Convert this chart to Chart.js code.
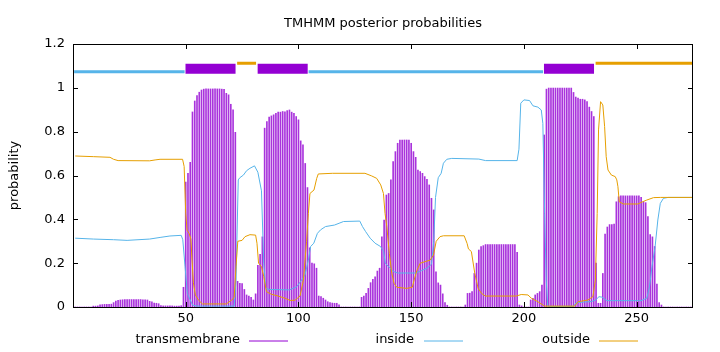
<!DOCTYPE html>
<html>
<head>
<meta charset="utf-8">
<script src="https://cdn.jsdelivr.net/npm/chart.js"></script>
<style>
  html, body { margin: 0; padding: 0; background: #fff; }
  #wrap { width: 720px; height: 352px; position: relative; }
</style>
</head>
<body>
<div id="wrap"><canvas id="myChart"></canvas></div>
<script>
// Posterior probability of transmembrane per residue (1..275)
const tmProb = [
  0, 0, 0, 0, 0, 0, 0, 0, 0.004, 0.004,
  0.005, 0.01, 0.011, 0.012, 0.012, 0.012, 0.013, 0.02, 0.027, 0.031,
  0.032, 0.033, 0.034, 0.034, 0.034, 0.034, 0.034, 0.034, 0.034, 0.034,
  0.033, 0.033, 0.032, 0.026, 0.024, 0.018, 0.017, 0.015, 0.006, 0.005,
  0.005, 0.005, 0.005, 0.005, 0.004, 0.004, 0.004, 0.006, 0.09, 0.57,
  0.61, 0.66, 0.89, 0.94, 0.965, 0.98, 0.99, 0.994, 0.995, 0.995,
  0.995, 0.995, 0.995, 0.995, 0.995, 0.994, 0.993, 0.975, 0.968, 0.925,
  0.9, 0.797, 0.117, 0.108, 0.107, 0.08, 0.055, 0.05, 0.044, 0.032,
  0.06, 0.19, 0.24, 0.32, 0.816, 0.846, 0.866, 0.872, 0.877, 0.884,
  0.889, 0.889, 0.892, 0.89, 0.896, 0.899, 0.889, 0.884, 0.869, 0.854,
  0.758, 0.74, 0.655, 0.545, 0.27, 0.2, 0.197, 0.177, 0.05, 0.047,
  0.04, 0.032, 0.024, 0.02, 0.018, 0.017, 0.017, 0.01, 0, 0,
  0, 0, 0, 0, 0, 0, 0, 0.044, 0.05, 0.062,
  0.085, 0.111, 0.126, 0.138, 0.164, 0.177, 0.32, 0.397, 0.511, 0.518,
  0.58, 0.663, 0.709, 0.747, 0.762, 0.762, 0.762, 0.762, 0.762, 0.747,
  0.709, 0.683, 0.625, 0.618, 0.61, 0.595, 0.583, 0.557, 0.496, 0.443,
  0.16, 0.11, 0.1, 0.06, 0.02, 0.008, 0, 0, 0, 0,
  0, 0, 0, 0.009, 0.062, 0.063, 0.07, 0.153, 0.2, 0.26,
  0.276, 0.28, 0.285, 0.285, 0.285, 0.285, 0.285, 0.285, 0.285, 0.285,
  0.285, 0.285, 0.285, 0.285, 0.285, 0.285, 0.25, 0.009, 0.005, 0,
  0, 0, 0.032, 0.04, 0.055, 0.062, 0.07, 0.1, 0.785, 0.994,
  0.999, 0.999, 0.999, 0.999, 0.999, 0.999, 0.999, 0.999, 0.999, 0.999,
  0.999, 0.979, 0.958, 0.953, 0.948, 0.948, 0.945, 0.937, 0.912, 0.892,
  0.869, 0.2, 0.017, 0.017, 0.153, 0.333, 0.365, 0.376, 0.376, 0.378,
  0.48, 0.503, 0.507, 0.507, 0.507, 0.507, 0.507, 0.507, 0.507, 0.507,
  0.507, 0.5, 0.48, 0.476, 0.412, 0.33, 0.32, 0.276, 0.105, 0.02,
  0.009, 0, 0, 0, 0, 0, 0, 0, 0, 0,
  0, 0, 0, 0, 0
];

// inside / outside curves as [residue, probability]
const insidePts = [
  [1,0.314],[9,0.31],[18,0.307],[24,0.304],[34,0.31],[39,0.318],[43,0.324],[48,0.327],
  [48.7,0.307],[49.7,0.184],[50.7,0.062],[52,0.032],[53,0.009],[55,0.004],[71.5,0.004],
  [72.3,0.123],[73.3,0.58],[74,0.59],[75.6,0.602],[77,0.622],[78.5,0.633],[80.5,0.644],
  [82,0.615],[83.6,0.53],[84.6,0.2],[85.5,0.085],[87,0.08],[96,0.078],[99.2,0.092],
  [101.4,0.123],[102.9,0.146],[104.4,0.214],[105.4,0.276],[106.8,0.291],[108.4,0.336],
  [109.8,0.352],[112,0.367],[116,0.374],[118,0.382],[120,0.39],[127.2,0.392],[128.4,0.367],
  [129.8,0.344],[131.8,0.314],[134,0.291],[136.4,0.276],[137.8,0.253],[138.5,0.2],
  [140.6,0.177],[142.4,0.161],[144,0.155],[152,0.155],[154.6,0.166],[157,0.177],[159,0.195],
  [160,0.3],[160.8,0.5],[162,0.59],[163.3,0.61],[164.3,0.656],[165.8,0.674],[168,0.678],
  [180,0.675],[183,0.668],[197,0.668],[197.8,0.72],[198.6,0.93],[200,0.945],[202.5,0.942],
  [204,0.918],[206.2,0.912],[207.7,0.899],[208.4,0.838],[209.2,0.427],[209.9,0.123],
  [210.6,0.002],[222,0.003],[223.2,0.02],[230,0.025],[231.8,0.032],[233.3,0.047],
  [234.6,0.045],[236.8,0.029],[252,0.029],[254.5,0.04],[255.7,0.092],[256.8,0.184],
  [258.2,0.276],[259.4,0.397],[260.5,0.473],[261.9,0.496],[264,0.5],[275,0.5]
];

const outsidePts = [
  [1,0.689],[9,0.686],[16.4,0.683],[18,0.674],[20,0.668],[34,0.667],[36.4,0.671],[38.6,0.674],
  [48.6,0.674],[49.3,0.641],[50,0.427],[50.6,0.35],[51.5,0.336],[52.3,0.31],[52.8,0.214],
  [53.4,0.11],[54.3,0.055],[55.6,0.032],[57.4,0.014],[68,0.014],[70.8,0.035],[71.5,0.045],
  [72.3,0.184],[73.1,0.3],[75,0.304],[76.3,0.321],[78.5,0.33],[81,0.328],[81.6,0.291],
  [82.3,0.2],[83.6,0.184],[84.6,0.14],[85.8,0.07],[88,0.058],[91,0.05],[94,0.04],[96.3,0.03],
  [98.5,0.031],[100.7,0.05],[102.2,0.123],[103.6,0.3],[104.4,0.427],[105.1,0.518],
  [106.9,0.534],[108.1,0.587],[108.8,0.607],[115,0.61],[129.5,0.61],[132.5,0.598],
  [134.7,0.587],[136.5,0.557],[137.7,0.518],[138.4,0.427],[139.2,0.367],[140.3,0.245],
  [141.4,0.154],[142.4,0.108],[143.6,0.09],[148,0.085],[150.5,0.09],[151.3,0.123],
  [152.5,0.166],[154,0.2],[156.2,0.207],[158.4,0.214],[159.9,0.237],[161.1,0.3],[162.8,0.321],
  [164.3,0.325],[173.5,0.325],[174.8,0.29],[175.4,0.265],[176.7,0.253],[178.2,0.154],
  [179.7,0.085],[181.2,0.062],[182.9,0.05],[196.6,0.05],[198.8,0.057],[201.8,0.055],
  [203.3,0.04],[206.2,0.024],[209.2,0.004],[222.5,0.004],[224,0.024],[228.4,0.032],
  [230.6,0.047],[231.7,0.123],[232.5,0.427],[233.1,0.808],[234,0.937],[235,0.922],
  [235.8,0.823],[236.5,0.686],[237.3,0.625],[238.8,0.602],[240.5,0.595],[241.2,0.58],
  [241.7,0.549],[242.3,0.48],[244.2,0.47],[250.5,0.47],[252.6,0.48],[254.5,0.488],
  [257.5,0.499],[260.5,0.5],[275,0.5]
];

// predicted topology
const topoType = ['inside', 'TMhelix', 'outside', 'TMhelix', 'inside', 'TMhelix', 'outside'];
const topoStart = [1, 50, 73, 82, 105, 209, 232];
const topoEnd = [49, 72, 81, 104, 208, 231, 275];

const seriesLabels = ['transmembrane', 'inside', 'outside'];
const yTicks = [0, 0.2, 0.4, 0.6, 0.8, 1, 1.2];
const xTicks = [50, 100, 150, 200, 250];

const PURPLE = '#9400D3', BLUE = '#56B4E9', ORANGE = '#E69F00';
const FONT = '"DejaVu Sans", sans-serif';

// level and look of the topology bar above the curves
const topoStyle = {
  inside:  { y: 1.073, color: BLUE, width: 3, inset: 0 },
  outside: { y: 1.112, color: ORANGE, width: 3, inset: 0.3 },
  TMhelix: { y: 1.087, color: PURPLE, width: 10, inset: 0.4 }
};

function topoData(kind) {
  const pts = [];
  const st = topoStyle[kind];
  topoType.forEach((t, i) => {
    if (t !== kind) return;
    pts.push({ x: topoStart[i] - 0.5 + st.inset, y: st.y });
    pts.push({ x: topoEnd[i] + 0.5 - st.inset, y: st.y });
    pts.push({ x: topoEnd[i] + 0.5, y: null });
  });
  return pts;
}

function topoDataset(kind) {
  const st = topoStyle[kind];
  return {
    type: 'line', data: topoData(kind), borderColor: st.color, borderWidth: st.width,
    borderCapStyle: 'butt', pointRadius: 0, spanGaps: false, clip: 0, order: 0
  };
}

const frame = {
  id: 'frame',
  afterDraw(chart) {
    const { ctx, chartArea: a, scales: { x, y } } = chart;
    ctx.save();
    ctx.strokeStyle = '#000';
    ctx.lineWidth = 1;
    ctx.strokeRect(a.left + 0.5, a.top + 0.5, a.right - a.left - 1, a.bottom - a.top);
    ctx.beginPath();
    xTicks.forEach(v => {
      const px = Math.round(x.getPixelForValue(v)) + 0.5;
      ctx.moveTo(px, a.bottom); ctx.lineTo(px, a.bottom - 5);
      ctx.moveTo(px, a.top); ctx.lineTo(px, a.top + 5);
    });
    yTicks.forEach(v => {
      const py = Math.round(y.getPixelForValue(v)) + 0.5;
      ctx.moveTo(a.left, py); ctx.lineTo(a.left + 5, py);
      ctx.moveTo(a.right, py); ctx.lineTo(a.right - 5, py);
    });
    ctx.stroke();

    ctx.fillStyle = '#000';
    ctx.font = '13px ' + FONT;
    ctx.textAlign = 'center';
    ctx.textBaseline = 'alphabetic';
    ctx.fillText('TMHMM posterior probabilities', (a.left + a.right) / 2, 27);

    ctx.save();
    ctx.translate(15, (a.top + a.bottom) / 2);
    ctx.rotate(-Math.PI / 2);
    ctx.textBaseline = 'middle';
    ctx.fillText('probability', 0, 0);
    ctx.restore();

    // key, text to the left of its sample line
    const key = [
      { textRight: 240, x0: 249, x1: 288, color: PURPLE },
      { textRight: 414, x0: 424, x1: 463, color: BLUE },
      { textRight: 590, x0: 599, x1: 638, color: ORANGE }
    ];
    ctx.textAlign = 'right';
    ctx.textBaseline = 'middle';
    key.forEach((k, i) => {
      ctx.fillStyle = '#000';
      ctx.fillText(seriesLabels[i], k.textRight, 340);
      ctx.strokeStyle = k.color;
      ctx.beginPath();
      ctx.moveTo(k.x0, 341);
      ctx.lineTo(k.x1, 341);
      ctx.stroke();
    });
    ctx.restore();
  }
};

const ctx = document.getElementById('myChart').getContext('2d');
new Chart(ctx, {
  type: 'bar',
  data: {
    datasets: [
      topoDataset('inside'),
      topoDataset('outside'),
      topoDataset('TMhelix'),
      {
        type: 'line', label: seriesLabels[2],
        data: outsidePts.map(p => ({ x: p[0], y: p[1] })),
        borderColor: ORANGE, borderWidth: 1, pointRadius: 0, tension: 0, order: 1
      },
      {
        type: 'line', label: seriesLabels[1],
        data: insidePts.map(p => ({ x: p[0], y: p[1] })),
        borderColor: BLUE, borderWidth: 1, pointRadius: 0, tension: 0, order: 2
      },
      {
        type: 'bar', label: seriesLabels[0],
        data: tmProb.map((v, i) => ({ x: i + 1, y: v })),
        backgroundColor: 'rgba(148, 0, 211, 0.8)', barThickness: 1, order: 3
      }
    ]
  },
  options: {
    responsive: true,
    maintainAspectRatio: false,
    animation: false,
    layout: { padding: { left: 0, top: 44, right: 27, bottom: 0 } },
    plugins: { legend: { display: false }, title: { display: false }, tooltip: { enabled: false } },
    scales: {
      x: {
        type: 'linear', min: 0, max: 275, offset: false,
        grid: { display: false, drawTicks: false }, border: { display: false },
        afterBuildTicks: s => { s.ticks = xTicks.map(v => ({ value: v })); },
        afterFit: s => { s.height = 45; },
        ticks: { color: '#000', font: { size: 13, family: FONT }, padding: 4, maxRotation: 0 }
      },
      y: {
        min: 0, max: 1.2,
        grid: { display: false, drawTicks: false }, border: { display: false },
        afterBuildTicks: s => { s.ticks = yTicks.map(v => ({ value: v })); },
        afterFit: s => { s.width = 73; },
        ticks: { color: '#000', font: { size: 13, family: FONT }, padding: 8,
          callback: v => String(Number(v.toFixed(1))) }
      }
    }
  },
  plugins: [frame]
});
</script>
</body>
</html>
